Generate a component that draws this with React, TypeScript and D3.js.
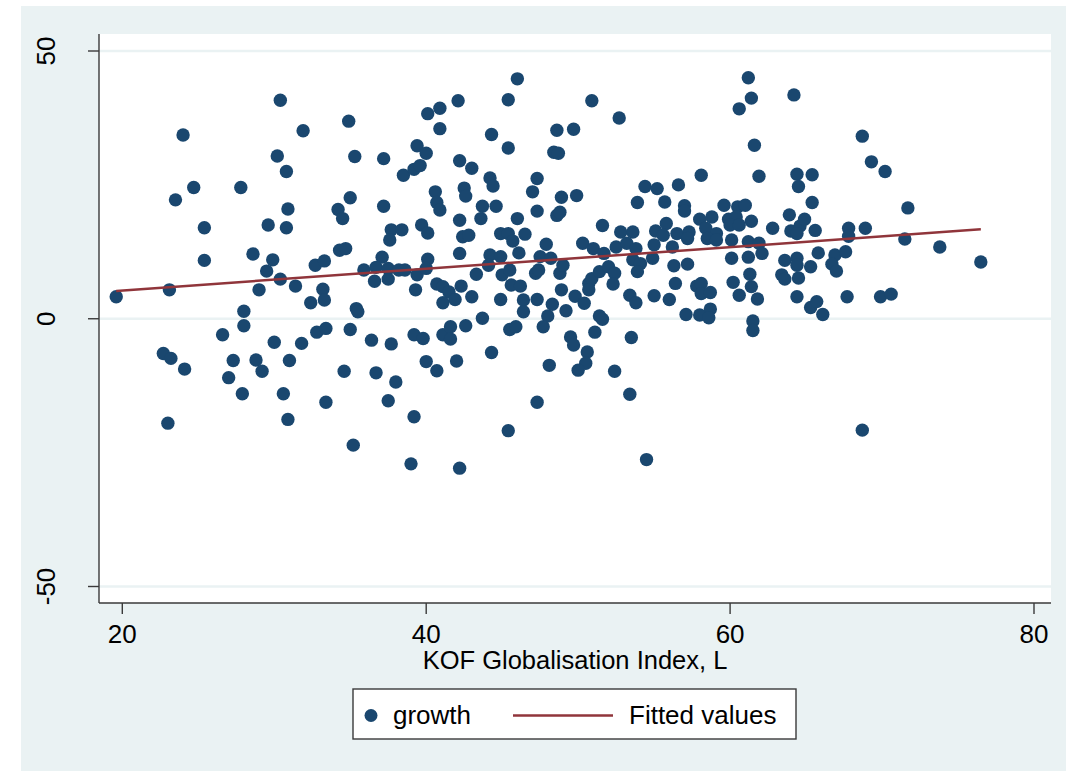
import React from "react";
import * as d3 from "d3";

// KOF Globalisation Index (x) and growth (y) observations
const kofIndex: number[] = [
  30.4, 24.0, 31.9, 30.2, 30.8, 24.7, 23.5, 27.8, 30.9, 34.2, 25.4, 29.6, 30.8, 25.4, 28.6, 29.9, 32.7, 33.3, 29.5, 34.3,
  19.6, 23.1, 30.4, 31.4, 29.0, 33.2, 33.3, 32.4, 28.0, 28.0, 26.6, 30.0, 31.8, 32.8, 33.4, 22.7, 23.2, 24.1, 27.3, 28.8,
  29.2, 31.0, 27.0, 27.9, 30.6, 33.4, 23.0, 30.9,
  46.0, 34.9, 42.1, 45.4, 40.1, 40.9, 40.9, 44.3, 48.6, 45.4, 39.4, 40.0, 35.3, 37.2, 48.4, 48.7, 42.2, 43.0, 38.5, 39.2,
  39.6, 44.2, 44.4, 47.3, 47.0, 48.9, 42.5, 42.6, 40.6, 35.0, 34.5, 37.2, 40.7, 40.9, 43.7, 44.6, 43.6, 42.2, 46.0, 47.3,
  48.6, 48.8, 39.7, 40.1, 37.7, 38.4, 37.6, 42.4, 42.8, 44.9, 45.4, 45.7, 46.5, 47.9, 46.1, 34.7, 37.1, 40.1, 42.2, 44.2,
  44.9, 47.5, 48.2, 35.9, 36.7, 37.5, 38.2, 38.6, 39.4, 40.0, 43.3, 44.1, 36.6, 37.5, 39.3, 40.7, 41.1, 41.5, 42.3, 41.1,
  41.9, 43.0, 44.9, 45.0, 45.5, 45.6, 46.2, 47.2, 47.4, 48.8, 49.0, 48.9, 46.4, 47.3, 46.4, 48.3, 48.0, 47.7, 49.2, 35.4,
  35.5, 35.0, 36.4, 37.7, 39.2, 39.8, 41.1, 41.6, 41.6, 42.6, 43.7, 45.5, 45.9, 49.5, 49.7, 44.3, 40.0, 40.7, 42.0, 34.6,
  36.7, 38.0, 48.1, 37.5, 47.3, 39.2, 45.4, 35.2, 39.0, 42.2,
  61.2, 61.4, 60.6, 64.2, 50.9, 52.7, 49.7, 61.6, 61.9, 58.1, 64.4, 64.5, 54.4, 55.2, 56.6, 53.9, 55.7, 57.0, 57.0, 49.9,
  59.6, 60.5, 61.0, 63.9, 58.0, 58.8, 51.6, 52.8, 53.6, 55.1, 55.8, 55.6, 56.5, 57.3, 57.2, 58.4, 59.1, 58.5, 59.1, 59.9,
  60.4, 60.0, 60.6, 61.4, 60.1, 61.2, 61.9, 62.8, 64.0, 64.6, 64.9, 64.4, 50.3, 51.0, 51.7, 52.5, 53.2, 53.8, 55.0, 54.9,
  56.2, 53.6, 54.1, 56.3, 57.2, 60.1, 61.2, 62.1, 63.6, 64.4, 50.7, 50.9, 50.7, 51.4, 52.0, 52.4, 52.3, 49.8, 50.4, 51.4,
  51.6, 51.1, 50.6, 50.5, 50.0, 53.5, 52.4, 53.4, 54.5, 53.4, 53.8, 55.0, 53.9, 56.4, 56.0, 57.8, 58.1, 58.1, 58.7, 57.1,
  58.0, 58.7, 58.6, 60.2, 60.6, 61.3, 61.4, 61.8, 61.5, 61.5, 63.4, 63.6, 64.4, 64.5, 64.4,
  68.7, 69.3, 70.2, 71.7, 65.4, 65.4, 65.6, 67.8, 67.8, 68.9, 71.5, 73.8, 76.5, 65.8, 66.9, 67.6, 66.7, 67.0, 65.3, 65.3,
  65.7, 66.1, 67.7, 69.9, 70.6, 68.7,
];

const growth: number[] = [
  40.8, 34.3, 35.1, 30.4, 27.5, 24.5, 22.2, 24.5, 20.5, 20.4, 17.0, 17.5, 17.0, 10.9, 12.1, 11.0, 10.0, 10.8, 8.9, 12.8,
  4.1, 5.4, 7.4, 6.1, 5.4, 5.5, 3.5, 3.0, 1.4, -1.3, -3.0, -4.4, -4.6, -2.5, -1.8, -6.5, -7.4, -9.4, -7.8, -7.7,
  -9.8, -7.8, -11.0, -14.0, -14.0, -15.6, -19.5, -18.8,
  44.8, 36.9, 40.7, 40.9, 38.3, 39.3, 35.5, 34.4, 35.2, 31.9, 32.3, 30.9, 30.3, 29.9, 31.1, 30.9, 29.5, 28.1, 26.8, 27.9,
  28.6, 26.3, 24.8, 26.2, 23.7, 22.7, 24.4, 22.9, 23.7, 22.6, 18.7, 21.0, 21.7, 20.3, 21.0, 21.0, 18.7, 18.4, 18.7, 20.1,
  19.3, 19.9, 17.5, 16.0, 16.6, 16.6, 14.7, 15.3, 15.6, 15.9, 15.9, 14.5, 15.8, 13.9, 12.3, 13.1, 11.5, 11.1, 12.2, 11.9,
  11.6, 11.6, 11.3, 9.1, 9.6, 9.4, 9.1, 9.1, 8.2, 9.4, 8.3, 10.0, 7.0, 7.4, 5.4, 6.5, 6.0, 5.0, 6.1, 3.0,
  3.6, 4.1, 3.6, 8.2, 9.1, 6.3, 6.1, 8.5, 9.1, 8.5, 10.0, 5.4, 3.5, 3.6, 1.3, 2.7, 0.5, -1.5, 1.5, 1.9,
  1.3, -2.0, -4.0, -4.7, -3.0, -3.7, -3.0, -1.5, -3.8, -1.3, 0.1, -2.0, -1.5, -3.4, -4.9, -6.3, -8.0, -9.7, -7.9, -9.8,
  -10.1, -11.8, -8.7, -15.3, -15.6, -18.3, -20.9, -23.6, -27.1, -27.9,
  45.0, 41.2, 39.2, 41.8, 40.7, 37.5, 35.4, 32.4, 26.6, 26.8, 27.0, 24.7, 24.7, 24.3, 25.0, 21.7, 21.8, 21.1, 20.1, 23.0,
  21.2, 20.9, 21.2, 19.4, 18.6, 19.0, 17.4, 16.2, 16.2, 16.4, 17.8, 15.6, 15.9, 16.2, 15.0, 16.9, 15.9, 15.0, 14.7, 18.6,
  19.0, 17.5, 17.5, 18.2, 14.7, 14.4, 14.1, 16.9, 16.4, 17.3, 18.6, 15.9, 14.1, 13.1, 12.2, 13.4, 14.1, 13.1, 13.8, 11.3,
  13.4, 11.0, 10.3, 9.9, 10.2, 11.3, 11.5, 12.2, 10.9, 11.3, 6.6, 7.5, 5.4, 8.8, 9.7, 8.5, 6.5, 4.2, 2.9, 0.5,
  -0.1, -2.5, -6.2, -8.3, -9.6, -3.5, -9.8, -14.1, -26.3, 4.4, 3.0, 4.3, 8.8, 6.6, 3.6, 6.1, 6.6, 4.7, 4.9, 0.8,
  0.7, 1.8, 0.2, 6.8, 4.4, 8.3, 6.0, 3.7, -0.4, -2.2, 8.2, 7.4, 10.0, 7.6, 4.1,
  34.1, 29.3, 27.5, 20.7, 26.9, 21.7, 16.5, 16.9, 15.4, 16.9, 14.9, 13.4, 10.6, 12.3, 11.9, 12.5, 10.2, 8.9, 9.7, 2.1,
  3.2, 0.8, 4.1, 4.1, 4.6, -20.8,
];

// Linear fit evaluated at the smallest and largest index values
const fittedX: number[] = [19.6, 76.5];
const fittedY: number[] = [5.2, 16.7];

const xTicks: number[] = [20, 40, 60, 80];
const yTicks: number[] = [-50, 0, 50];

const xTitle = "KOF Globalisation Index, L";
const legendLabels = ["growth", "Fitted values"];

const W = 1066;
const H = 771;
const BG = "#eaf2f3";
const NAVY = "#1a476f";
const MAROON = "#90353b";
const AXIS = "#3a3a3a";
const FONT = "'Liberation Sans', Arial, Helvetica, sans-serif";

export default function App() {
  const plot = { left: 99, right: 1051, top: 34, bottom: 603 };
  const x = d3.scaleLinear().domain([20, 80]).range([122.3, 1034]);
  const y = d3.scaleLinear().domain([-50, 50]).range([586.5, 51]);

  const fitLine = d3
    .line<number>()
    .x((_, i) => x(fittedX[i]))
    .y((_, i) => y(fittedY[i]))(fittedX) as string;

  const points = kofIndex.map((k, i) => ({ k, g: growth[i] }));

  const legend = { x: 353, y: 689, w: 443, h: 50 };

  return (
    <svg
      width={W}
      height={H}
      style={{ position: "absolute", left: 0, top: 0, display: "block" }}
      fontFamily={FONT}
    >
      <rect x={0} y={0} width={W} height={H} fill="#ffffff" />
      <rect x={21} y={6} width={W - 21} height={H - 6} fill={BG} />
      <rect
        x={plot.left}
        y={plot.top}
        width={plot.right - plot.left}
        height={plot.bottom - plot.top}
        fill="#ffffff"
      />

      {/* horizontal grid */}
      {yTicks.map((t) => (
        <line
          key={`g${t}`}
          x1={plot.left}
          x2={plot.right}
          y1={y(t)}
          y2={y(t)}
          stroke={BG}
          strokeWidth={2.7}
        />
      ))}

      {/* scatter */}
      {points.map((p, i) => (
        <circle key={i} cx={x(p.k)} cy={y(p.g)} r={6.7} fill={NAVY} />
      ))}

      {/* fitted values */}
      <path d={fitLine} fill="none" stroke={MAROON} strokeWidth={2.5} />

      {/* axes */}
      <line x1={plot.left} x2={plot.left} y1={plot.top} y2={plot.bottom} stroke={AXIS} strokeWidth={1.4} />
      <line x1={plot.left} x2={plot.right} y1={plot.bottom} y2={plot.bottom} stroke={AXIS} strokeWidth={1.4} />

      {yTicks.map((t) => (
        <g key={`y${t}`}>
          <line x1={88} x2={plot.left} y1={y(t)} y2={y(t)} stroke={AXIS} strokeWidth={1.4} />
          <text
            transform={`translate(55,${y(t)}) rotate(-90)`}
            textAnchor="middle"
            fontSize={26}
            fill="#000"
          >
            {t}
          </text>
        </g>
      ))}

      {xTicks.map((t) => (
        <g key={`x${t}`}>
          <line x1={x(t)} x2={x(t)} y1={plot.bottom} y2={614} stroke={AXIS} strokeWidth={1.4} />
          <text x={x(t)} y={643} textAnchor="middle" fontSize={26} fill="#000">
            {t}
          </text>
        </g>
      ))}

      <text x={575} y={669} textAnchor="middle" fontSize={25.5} fill="#000">
        {xTitle}
      </text>

      {/* legend */}
      <rect
        x={legend.x}
        y={legend.y}
        width={legend.w}
        height={legend.h}
        fill="#ffffff"
        stroke={AXIS}
        strokeWidth={1.4}
      />
      <circle cx={371} cy={715.5} r={6.5} fill={NAVY} />
      <text x={393} y={724} fontSize={26} fill="#000">
        {legendLabels[0]}
      </text>
      <line x1={513} x2={613} y1={715.5} y2={715.5} stroke={MAROON} strokeWidth={2.5} />
      <text x={629} y={724} fontSize={26} fill="#000">
        {legendLabels[1]}
      </text>
    </svg>
  );
}
